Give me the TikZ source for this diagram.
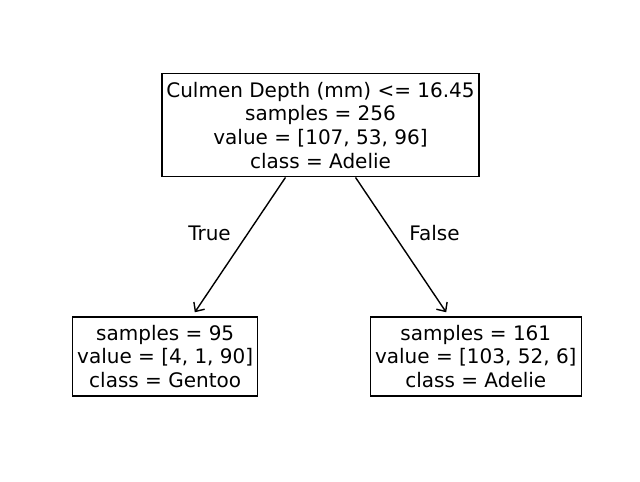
\documentclass[tikz,border=0pt]{standalone}
\usepackage{fontspec}
\setmainfont{DejaVu Sans}
\usetikzlibrary{arrows.meta}
\begin{document}
\begin{tikzpicture}[x=1pt,y=-1pt,
  treebox/.style={draw=black,line width=1.3pt,inner sep=0pt,align=center,
    font=\fontsize{20}{23.8}\selectfont},
  edge/.style={line width=1.4pt,-{Straight Barb[length=7pt,width=13pt,line width=1.4pt]},shorten >=4.8pt},
  lbl/.style={font=\fontsize{20}{23.8}\selectfont,anchor=base}]
\useasboundingbox[fill=white] (0,0) rectangle (640,482);
\node[treebox,minimum width=317pt,minimum height=103pt] (root) at (320.5,125.3)
  {Culmen Depth (mm) <= 16.45\\samples = 256\\value = [107, 53, 96]\\class = Adelie};
\node[treebox,minimum width=185pt,minimum height=79pt] (left) at (165.2,356.4)
  {samples = 95\\value = [4, 1, 90]\\class = Gentoo};
\node[treebox,minimum width=211pt,minimum height=79pt] (right) at (475.8,356.4)
  {samples = 161\\value = [103, 52, 6]\\class = Adelie};
\draw[edge] (root) -- (left);
\draw[edge] (root) -- (right);
\node[lbl] (t) at (209.5,240.5) {True};
\node[lbl] (f) at (434.5,240.5) {False};
\end{tikzpicture}
\end{document}
